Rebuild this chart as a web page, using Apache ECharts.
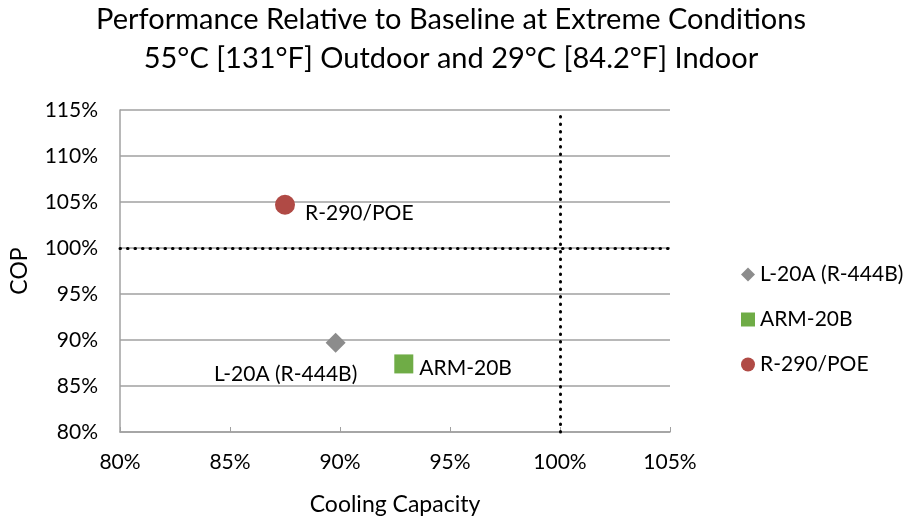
<!DOCTYPE html>
<html>
<head>
<meta charset="utf-8">
<script src="https://cdn.jsdelivr.net/npm/echarts@6/dist/echarts.min.js"></script>
<style>
  html, body { margin: 0; padding: 0; background: #fff; }
  #chart { width: 904px; height: 521px; }
</style>
</head>
<body>
<div id="chart"></div>
<script>
// refrigerant results, [cooling capacity %, COP %]
const seriesNames = ['L-20A (R-444B)', 'ARM-20B', 'R-290/POE'];
const l20aPoint = [89.8, 89.7];
const arm20bPoint = [92.9, 87.4];
const r290Point = [87.5, 104.7];
const baseline = 100;

const font = 'Lato, sans-serif';
const colors = ['#8c8c8c', '#6fac46', '#b04a45'];

const chart = echarts.init(document.getElementById('chart'));

const pctLabel = v => v + '%';

const option = {
    animation: false,
    backgroundColor: '#fff',
    title: {
        text: 'Performance Relative to Baseline at Extreme Conditions\n55°C [131°F] Outdoor and 29°C [84.2°F] Indoor',
        left: 451,
        textAlign: 'center',
        top: 0,
        padding: 0,
        textStyle: { fontFamily: font, fontSize: 29, fontWeight: 'normal', color: '#000', lineHeight: 39 }
    },
    legend: {
        orient: 'vertical',
        left: 736,
        top: 259,
        itemGap: 24,
        itemWidth: 14,
        itemHeight: 14,
        data: seriesNames,
        textStyle: { fontFamily: font, fontSize: 21, color: '#000' }
    },
    grid: { left: 120, right: 234, top: 110, bottom: 86 },
    xAxis: {
        type: 'value',
        min: 80, max: 105, interval: 5,
        name: 'Cooling Capacity',
        nameLocation: 'middle',
        nameGap: 61,
        nameTextStyle: { fontFamily: font, fontSize: 23, color: '#000' },
        axisLine: { show: true, lineStyle: { color: '#a0a0a0', width: 1.5 } },
        axisTick: { show: true, inside: true, length: 5, lineStyle: { color: '#a0a0a0' } },
        axisLabel: { formatter: pctLabel, fontFamily: font, fontSize: 21, color: '#000', margin: 20 },
        splitLine: { show: false }
    },
    yAxis: {
        type: 'value',
        min: 80, max: 115, interval: 5,
        name: 'COP',
        nameLocation: 'middle',
        nameGap: 89,
        nameTextStyle: { fontFamily: font, fontSize: 23, color: '#000' },
        axisLine: { show: true, lineStyle: { color: '#a0a0a0', width: 1.5 } },
        axisTick: { show: false },
        axisLabel: { formatter: pctLabel, fontFamily: font, fontSize: 21, color: '#000', margin: 22 },
        splitLine: { show: true, lineStyle: { color: '#a0a0a0', width: 1.5 } }
    },
    series: [
        {
            name: seriesNames[0],
            type: 'scatter',
            symbol: 'diamond',
            symbolSize: 20,
            itemStyle: { color: colors[0], opacity: 1 },
            data: [l20aPoint],
            label: {
                show: true,
                formatter: seriesNames[0],
                position: 'bottom',
                distance: 11,
                offset: [-50, 0],
                fontFamily: font, fontSize: 21, color: '#000'
            },
            markLine: {
                silent: true,
                symbol: 'none',
                label: { show: false },
                lineStyle: { color: '#000', type: [0.5, 7], width: 3, cap: 'round', opacity: 1 },
                data: [{ xAxis: baseline }, { yAxis: baseline }]
            }
        },
        {
            name: seriesNames[1],
            type: 'scatter',
            symbol: 'rect',
            symbolSize: 19,
            itemStyle: { color: colors[1], opacity: 1 },
            data: [arm20bPoint],
            label: {
                show: true,
                formatter: seriesNames[1],
                position: 'right',
                distance: 6,
                offset: [0, 4],
                fontFamily: font, fontSize: 21, color: '#000'
            }
        },
        {
            name: seriesNames[2],
            type: 'scatter',
            symbol: 'circle',
            symbolSize: 20,
            itemStyle: { color: colors[2], opacity: 1 },
            data: [r290Point],
            label: {
                show: true,
                formatter: seriesNames[2],
                position: 'right',
                distance: 10,
                offset: [0, 8],
                fontFamily: font, fontSize: 21, color: '#000'
            }
        }
    ]
};

chart.setOption(option);
</script>
</body>
</html>
